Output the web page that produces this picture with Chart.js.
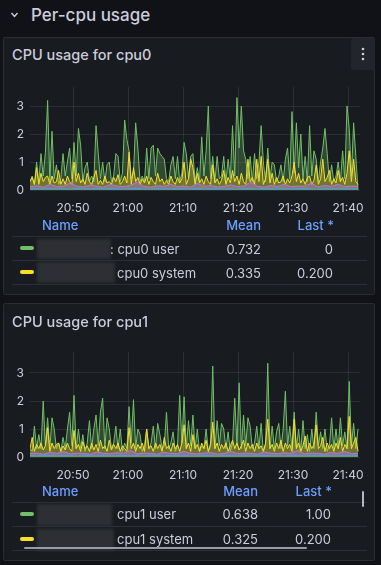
<!DOCTYPE html>
<html><head><meta charset="utf-8">
<script src="https://cdn.jsdelivr.net/npm/chart.js@4/dist/chart.umd.min.js"></script>
<style>
html,body{margin:0;padding:0;background:#111217;width:381px;height:565px;overflow:hidden;font-family:Inter,"Open Sans",sans-serif;color:#ccccdc;}
.abs{position:absolute;}
.panel{position:absolute;left:3px;width:372px;background:#181b1f;border:1px solid #2a2c32;border-radius:2px;box-sizing:border-box;}
.title{position:absolute;font-size:14.5px;font-weight:500;color:#ccccdc;white-space:nowrap;line-height:18px;}
.hdr{position:absolute;font-size:13px;font-weight:500;color:#6e9fff;line-height:16px;white-space:nowrap;}
.cell{position:absolute;font-size:13px;color:#ccccdc;line-height:16px;white-space:nowrap;}
.r{text-align:right;}
.hline{position:absolute;height:1px;background:#2c2f35;}
.sw{position:absolute;width:14px;height:4px;border-radius:2px;}
.blur{position:absolute;background:#2d2f34;filter:blur(1.5px);}
canvas{position:absolute;}
</style></head>
<body>
<svg class="abs" style="left:0;top:0" width="30" height="30"><polyline points="11.5,13 14.5,16.5 17.5,13" fill="none" stroke="#ccccdc" stroke-width="1.4"/></svg>
<div class="abs" style="left:31px;top:4px;font-size:17px;font-weight:500;line-height:22px;color:#ccccdc;">Per-cpu usage</div>

<div class="panel" style="top:37px;height:258px;"></div>
<div class="title" style="left:12px;top:46px;">CPU usage for cpu0</div>
<div class="abs" style="left:351px;top:38px;width:24px;height:32px;background:#22252b;border-radius:2px;"></div>
<svg class="abs" style="left:351px;top:38px" width="24" height="32"><circle cx="12" cy="11" r="1.3" fill="#ccccdc"/><circle cx="12" cy="16" r="1.3" fill="#ccccdc"/><circle cx="12" cy="21" r="1.3" fill="#ccccdc"/></svg>
<canvas id="c0" width="372" height="140" style="left:4px;top:80px;width:372px;height:140px;"></canvas>

<div class="hdr" style="left:42px;top:217px;">Name</div>
<div class="hdr r" style="left:200px;width:61px;top:217px;">Mean</div>
<div class="hdr r" style="left:270px;width:64px;top:217px;">Last *</div>
<div class="hline" style="left:12px;width:355px;top:236px;"></div>
<div class="sw" style="left:20px;top:246px;background:#73bf69;"></div>
<div class="blur" style="left:37px;top:239px;width:74px;height:20px;"></div>
<div class="cell" style="left:110px;top:241px;">: cpu0 user</div>
<div class="cell r" style="left:200px;width:61px;top:241px;">0.732</div>
<div class="cell r" style="left:270px;width:63px;top:241px;">0</div>
<div class="hline" style="left:12px;width:355px;top:260px;"></div>
<div class="sw" style="left:20px;top:270px;background:#fade2a;"></div>
<div class="blur" style="left:37px;top:262px;width:78px;height:21px;"></div>
<div class="cell" style="left:117px;top:265px;">cpu0 system</div>
<div class="cell r" style="left:200px;width:61px;top:265px;">0.335</div>
<div class="cell r" style="left:270px;width:63px;top:265px;">0.200</div>
<div class="hline" style="left:12px;width:355px;top:284px;"></div>

<div class="panel" style="top:303px;height:258px;"></div>
<div class="title" style="left:12px;top:313px;">CPU usage for cpu1</div>
<canvas id="c1" width="372" height="140" style="left:4px;top:345px;width:372px;height:140px;"></canvas>

<div class="hdr" style="left:42px;top:483px;">Name</div>
<div class="hdr r" style="left:197px;width:61px;top:483px;">Mean</div>
<div class="hdr r" style="left:268px;width:64px;top:483px;">Last *</div>
<div class="hline" style="left:12px;width:355px;top:502px;"></div>
<div class="abs" style="left:362px;top:491px;width:2px;height:16px;background:#b5b7c0;border-radius:1px;"></div>
<div class="sw" style="left:20px;top:512px;background:#73bf69;"></div>
<div class="blur" style="left:37px;top:504px;width:75px;height:22px;"></div>
<div class="cell" style="left:117px;top:506px;">cpu1 user</div>
<div class="cell r" style="left:197px;width:61px;top:506px;">0.638</div>
<div class="cell r" style="left:268px;width:63px;top:506px;">1.00</div>
<div class="hline" style="left:12px;width:355px;top:526px;"></div>
<div class="sw" style="left:20px;top:537px;background:#fade2a;"></div>
<div class="blur" style="left:37px;top:529px;width:77px;height:22px;"></div>
<div class="cell" style="left:117px;top:531px;">cpu1 system</div>
<div class="cell r" style="left:197px;width:61px;top:531px;">0.325</div>
<div class="cell r" style="left:268px;width:63px;top:531px;">0.200</div>
<div class="hline" style="left:12px;width:355px;top:550px;"></div>
<div class="abs" style="left:24px;top:547px;width:283px;height:2px;background:#9a9ca4;border-radius:1px;"></div>

<script>
// time axis in minutes after 20:00
const xTickValues = [50, 60, 70, 80, 90, 100];
const xTickLabels = ["20:50", "21:00", "21:10", "21:20", "21:30", "21:40"];
const yTickValues = [0, 1, 2, 3];
const yTickLabels = ["0", "1", "2", "3"];
const tStart = 42.18, tEnd = 101.82;

const cpu0User = [0.3,0.5,0.2,1.0,0.3,1.3,0.5,1.35,3.2,0.3,2.1,0.4,0.9,0.2,0.4,1.3,0.5,1.0,1.5,0.4,1.7,0.5,2.2,1.6,0.3,0.8,1.0,0.3,0.5,0.3,2.3,1.3,0.4,1.0,0.3,0.9,1.0,0.3,0.5,1.3,1.2,0.3,0.6,2.5,1.8,1.4,0.4,0.6,2.4,1.5,0.3,0.5,0.3,1.5,0.4,1.5,1.6,0.5,1.5,1.3,1.2,1.1,0.4,0.3,0.9,1.2,0.4,1.2,0.3,0.6,1.7,1.3,0.4,1.2,1.3,0.3,0.8,0.3,1.9,0.5,1.4,3.0,0.4,1.2,0.3,1.2,0.4,0.5,1.2,0.3,1.1,0.4,2.3,0.5,3.3,1.5,3.0,1.4,1.1,0.4,1.2,0.3,1.3,0.4,1.0,2.3,1.0,0.3,1.5,0.4,1.0,0.9,0.3,0.5,0.9,0.3,1.1,1.5,0.4,2.8,0.6,2.4,0.8,2.0,0.4,1.2,0.3,2.3,0.5,1.4,1.1,0.3,1.0,1.5,2.2,1.3,0.3,0.9,0.3,0.5,1.0,0.3,1.4,0.4,3.0,2.2,0.5,2.4,1.2,0];
const cpu0System = [0.3,0.45,0.2,0.8,0.2,0.6,0.3,0.45,0.5,0.2,0.5,0.25,0.3,0.7,0.2,0.4,0.2,0.5,0.3,0.2,1.0,0.3,0.6,0.25,0.4,0.2,0.6,0.3,0.2,0.45,0.7,0.2,0.35,0.2,0.5,0.25,0.3,0.2,0.45,0.3,0.55,0.2,0.3,0.5,0.25,1.35,0.2,0.8,0.3,0.45,0.2,0.4,0.25,0.5,0.2,0.45,0.3,0.2,0.6,0.3,0.4,0.2,0.35,0.2,0.5,0.3,0.2,0.45,0.25,0.4,1.0,0.2,0.4,1.1,0.8,0.2,0.6,0.25,0.4,0.2,0.5,0.3,0.2,0.9,0.25,0.4,0.2,0.35,0.7,0.2,0.45,0.25,0.7,0.3,0.5,0.2,0.6,0.3,0.2,1.1,0.3,0.45,0.2,1.1,0.3,1.2,0.2,0.4,1.1,0.25,0.6,0.2,0.45,0.25,0.3,0.5,0.2,0.4,0.25,0.5,1.0,0.3,0.6,0.25,0.4,0.2,0.45,0.5,0.2,0.35,0.9,0.2,0.4,1.1,0.3,0.45,0.7,0.2,0.4,0.25,0.7,0.3,0.45,0.2,0.6,1.4,0.3,1.1,0.3,0.2];
const cpu0Softirq = [0.12,0.15,0.1,0.2,0.12,0.14,0.25,0.13,0.11,0.18,0.13,0.1,0.2,0.14,0.12,0.16,0.28,0.13,0.1,0.15,0.13,0.2,0.12,0.14,0.1,0.24,0.13,0.16,0.11,0.13,0.18,0.12,0.14,0.28,0.13,0.1,0.16,0.13,0.2,0.12,0.14,0.13,0.24,0.11,0.16,0.13,0.2,0.12,0.14,0.13];
const cpu0Iowait = [0.05,0.06,0.04,0.07,0.04,0.05,0.03,0.06,0.05,0.04,0.06,0.04,0.07,0.05,0.04,0.05,0.06,0.04,0.03,0.06,0.05,0.04,0.06,0.05,0.04,0.07,0.04,0.05,0.06,0.04,0.05,0.03,0.06,0.05,0.04,0.06,0.04,0.07,0.05,0.04,0.05,0.06,0.04,0.03,0.06,0.05,0.04,0.06,0.05,0.04];
const cpu0Nice = [0, 0];

const cpu1User = [0.3,0.2,1.1,0.3,0.8,0.3,2.0,0.4,1.4,0.3,1.4,1.0,0.3,0.5,0.2,0.7,0.3,1.0,1.6,0.4,2.2,0.3,1.0,0.3,0.8,0.2,0.5,1.3,0.3,1.0,1.5,0.4,1.6,2.1,0.3,1.4,1.0,0.3,0.5,1.1,0.3,1.0,0.2,0.5,0.3,1.8,0.5,2.05,0.3,1.0,0.8,0.2,0.4,1.0,0.3,0.5,1.1,0.3,1.2,0.8,0.3,0.4,1.6,0.3,0.5,0.9,0.2,0.4,2.2,0.5,2.15,0.3,1.3,0.4,1.5,0.3,1.0,0.2,0.4,0.3,1.0,0.2,0.5,3.25,0.3,1.3,0.4,1.2,1.0,0.3,0.9,0.2,0.5,2.1,0.4,2.65,0.3,1.5,0.4,1.4,1.1,0.3,0.5,1.1,0.3,1.2,0.2,0.4,3.35,0.3,1.1,0.3,0.9,1.2,0.3,1.0,2.35,0.4,1.1,0.3,1.6,0.3,1.0,0.2,1.3,0.3,0.8,0.2,1.0,0.3,1.6,0.4,0.9,0.3,1.0,0.2,0.4,1.4,0.3,1.0,0.3,1.4,0.4,0.9,0.3,2.7,0.4,1.2,0.3,1.0];
const cpu1System = [0.3,0.7,0.2,0.45,0.3,0.5,0.25,0.4,1.05,0.2,0.5,0.3,0.45,0.5,0.2,0.4,0.25,0.5,0.3,0.2,0.95,0.3,0.45,0.2,0.55,0.3,0.4,0.2,0.5,0.25,0.45,0.2,0.6,0.3,0.4,0.2,0.6,0.25,0.45,0.3,0.5,0.2,0.4,0.3,0.2,1.05,0.3,0.5,0.2,0.45,0.3,0.5,0.2,1.0,0.3,0.4,0.2,0.5,0.3,0.45,0.2,0.7,0.3,0.4,0.2,0.5,0.3,0.45,0.2,0.5,1.15,0.3,0.5,0.2,0.8,0.3,0.45,0.2,0.5,0.3,0.6,0.2,0.4,1.25,0.3,0.5,0.2,0.45,0.3,0.5,0.2,0.4,0.6,0.3,0.5,0.25,0.4,0.6,0.2,0.5,0.3,0.45,0.2,0.5,0.3,0.4,0.2,0.5,1.35,0.3,0.45,0.2,0.5,0.3,0.6,0.2,0.5,0.3,0.45,0.2,1.35,0.3,0.5,0.2,0.4,0.75,0.2,0.5,0.3,0.45,1.15,0.3,0.4,0.7,0.2,0.5,0.3,0.45,0.2,0.5,0.3,0.7,0.2,0.45,0.3,1.45,0.3,0.5,0.7,0.2];
const cpu1Softirq = [0.12,0.14,0.1,0.16,0.13,0.2,0.11,0.14,0.13,0.1,0.18,0.13,0.12,0.15,0.13,0.24,0.11,0.14,0.13,0.1,0.17,0.13,0.12,0.2,0.13,0.11,0.14,0.16,0.1,0.13,0.2,0.12,0.14,0.13,0.1,0.18,0.13,0.12,0.15,0.13,0.24,0.11,0.14,0.13,0.1,0.16,0.13,0.2,0.12,0.13];
const cpu1Iowait = [0.06,0.04,0.07,0.05,0.04,0.06,0.05,0.03,0.06,0.05,0.04,0.07,0.04,0.05,0.06,0.04,0.05,0.03,0.06,0.05,0.04,0.06,0.05,0.07,0.04,0.04,0.06,0.05,0.03,0.06,0.05,0.04,0.07,0.04,0.05,0.06,0.04,0.05,0.03,0.06,0.05,0.04,0.06,0.05,0.07,0.04,0.04,0.06,0.05,0.05];
const cpu1Nice = [0, 0];

const GRID = 'rgba(204,204,220,0.11)';
const TICK = '#ccccdc';

function pts(vals) {
  return vals.map((v, i) => ({ x: tStart + i * (tEnd - tStart) / (vals.length - 1), y: v }));
}
function ds(vals, color, fillColor, order, width) {
  return { data: pts(vals), borderColor: color, backgroundColor: fillColor || color, borderWidth: width || 1,
           pointRadius: 0, tension: 0, fill: fillColor ? 'origin' : false, order: order };
}
function makeChart(id, user, system, softirq, iowait, nice, yMax, xPad, labelPad) {
  new Chart(document.getElementById(id), {
    type: 'line',
    data: { datasets: [
      ds(nice, '#56a64b', null, 0, 1.5),
      ds(iowait, '#5794f2', 'rgba(87,148,242,0.75)', 1),
      ds(softirq, '#b877d9', 'rgba(184,119,217,0.45)', 2),
      ds(system, '#fade2a', 'rgba(250,222,42,0.3)', 3),
      ds(user, '#73bf69', 'rgba(115,191,105,0.28)', 4)
    ] },
    options: {
      responsive: false, animation: false, devicePixelRatio: 1,
      layout: { padding: { left: 0, right: 16, top: 7, bottom: 0 } },
      plugins: { legend: { display: false }, tooltip: { enabled: false } },
      scales: {
        x: { type: 'linear', min: 42.18, max: 102.18,
             afterBuildTicks: s => { s.ticks = xTickValues.map(v => ({ value: v })); },
             afterFit: s => { s.height = xPad; s.paddingLeft = 0; s.paddingRight = 0; },
             grid: { color: GRID, drawTicks: false }, border: { display: false },
             ticks: { color: TICK, font: { family: 'Inter', size: 12 }, padding: labelPad, maxRotation: 0, autoSkip: false,
                      callback: (v, i) => xTickLabels[i] } },
        y: { min: 0, max: yMax,
             afterBuildTicks: s => { s.ticks = yTickValues.map(v => ({ value: v })); },
             afterFit: s => { s.width = 26; s.paddingTop = 0; s.paddingBottom = 0; },
             grid: { color: GRID, drawTicks: false }, border: { display: false },
             ticks: { color: TICK, font: { family: 'Inter', size: 12 }, padding: 6,
                      callback: (v, i) => yTickLabels[i] } }
      }
    }
  });
}
makeChart('c0', cpu0User, cpu0System, cpu0Softirq, cpu0Iowait, cpu0Nice, 3.68, 30, 11);
makeChart('c1', cpu1User, cpu1System, cpu1Softirq, cpu1Iowait, cpu1Nice, 3.75, 28, 11);
</script>
</body></html>
